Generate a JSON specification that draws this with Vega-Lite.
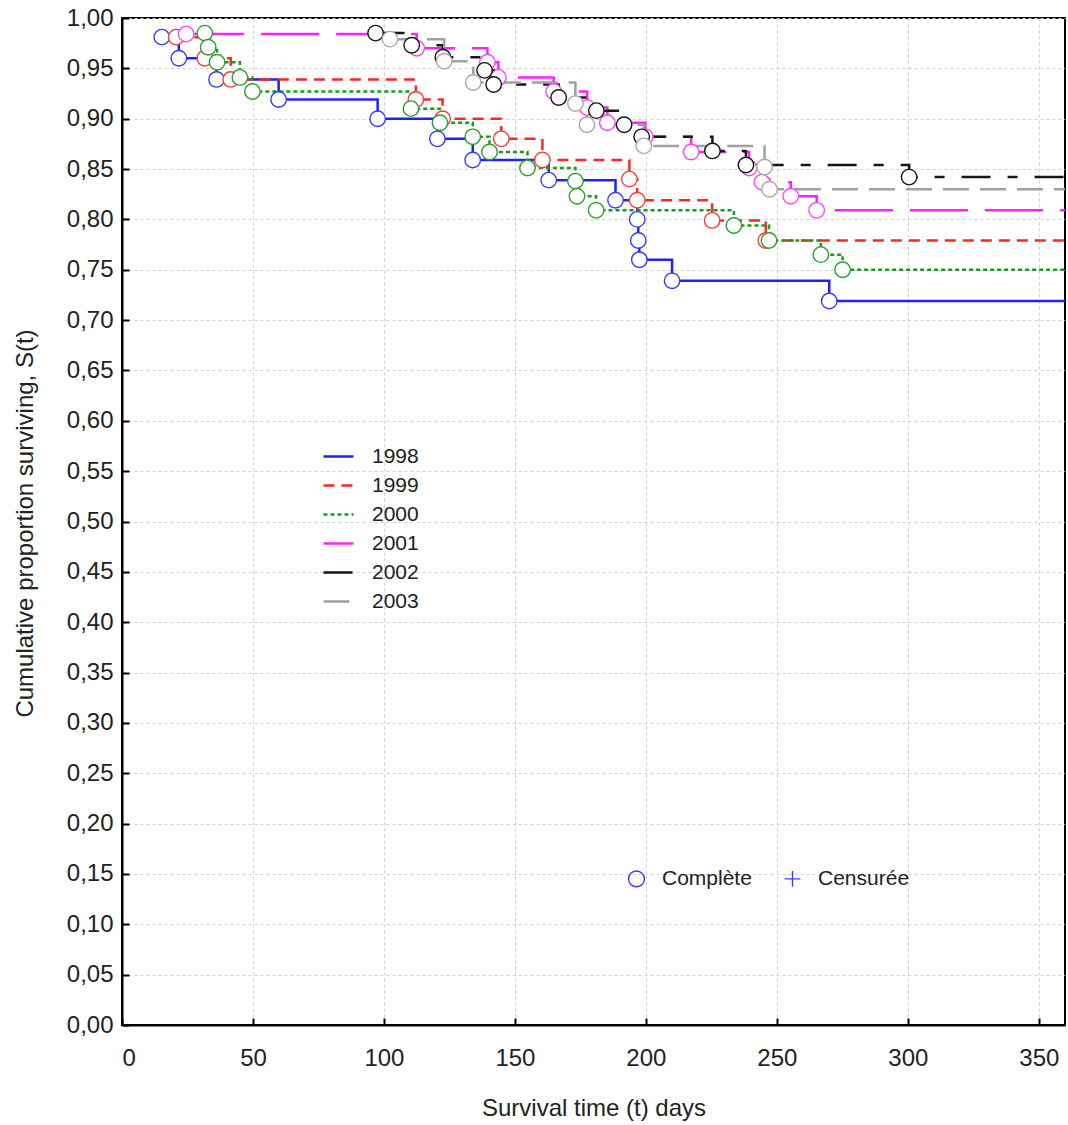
{
  "$schema": "https://vega.github.io/schema/vega-lite/v6.json",
  "width": 943,
  "height": 1007,
  "autosize": {"type": "none"},
  "padding": {"left": 122, "top": 18, "right": 3, "bottom": 100},
  "background": "white",
  "config": {
    "view": {"stroke": "#000", "strokeWidth": 2},
    "font": "Liberation Sans",
    "axis": {
      "domainColor": "#000", "domainWidth": 2,
      "tickColor": "#000", "tickWidth": 2, "tickSize": -7,
      "gridColor": "#d0d0d0", "gridDash": [3, 3], "gridWidth": 1,
      "labelColor": "#222", "titleColor": "#222",
      "labelFontSize": 24, "titleFontSize": 24, "titleFontWeight": "normal"
    }
  },
  "data": {
    "values": [
      {"year": "1998", "t": 15.2, "S": 0.981, "type": "Complète"},
      {"year": "1998", "t": 21.7, "S": 0.960, "type": "Complète"},
      {"year": "1998", "t": 36.1, "S": 0.939, "type": "Complète"},
      {"year": "1998", "t": 59.8, "S": 0.919, "type": "Complète"},
      {"year": "1998", "t": 97.6, "S": 0.900, "type": "Complète"},
      {"year": "1998", "t": 120.4, "S": 0.880, "type": "Complète"},
      {"year": "1998", "t": 133.9, "S": 0.859, "type": "Complète"},
      {"year": "1998", "t": 162.9, "S": 0.839, "type": "Complète"},
      {"year": "1998", "t": 188.4, "S": 0.819, "type": "Complète"},
      {"year": "1998", "t": 196.7, "S": 0.800, "type": "Complète"},
      {"year": "1998", "t": 197.1, "S": 0.779, "type": "Complète"},
      {"year": "1998", "t": 197.5, "S": 0.760, "type": "Complète"},
      {"year": "1998", "t": 210.0, "S": 0.739, "type": "Complète"},
      {"year": "1998", "t": 270.0, "S": 0.719, "type": "Complète"},
      {"year": "1998", "t": 360.0, "S": 0.719, "type": "fin"},
      {"year": "1999", "t": 20.7, "S": 0.981, "type": "Complète"},
      {"year": "1999", "t": 31.6, "S": 0.960, "type": "Complète"},
      {"year": "1999", "t": 41.5, "S": 0.939, "type": "Complète"},
      {"year": "1999", "t": 112.2, "S": 0.919, "type": "Complète"},
      {"year": "1999", "t": 122.4, "S": 0.900, "type": "Complète"},
      {"year": "1999", "t": 144.8, "S": 0.880, "type": "Complète"},
      {"year": "1999", "t": 160.5, "S": 0.859, "type": "Complète"},
      {"year": "1999", "t": 193.7, "S": 0.840, "type": "Complète"},
      {"year": "1999", "t": 196.7, "S": 0.819, "type": "Complète"},
      {"year": "1999", "t": 225.3, "S": 0.799, "type": "Complète"},
      {"year": "1999", "t": 245.8, "S": 0.779, "type": "Complète"},
      {"year": "1999", "t": 360.0, "S": 0.779, "type": "fin"},
      {"year": "2000", "t": 31.6, "S": 0.985, "type": "Complète"},
      {"year": "2000", "t": 32.9, "S": 0.971, "type": "Complète"},
      {"year": "2000", "t": 36.3, "S": 0.956, "type": "Complète"},
      {"year": "2000", "t": 45.0, "S": 0.941, "type": "Complète"},
      {"year": "2000", "t": 49.8, "S": 0.927, "type": "Complète"},
      {"year": "2000", "t": 110.3, "S": 0.910, "type": "Complète"},
      {"year": "2000", "t": 121.4, "S": 0.896, "type": "Complète"},
      {"year": "2000", "t": 133.9, "S": 0.882, "type": "Complète"},
      {"year": "2000", "t": 140.3, "S": 0.867, "type": "Complète"},
      {"year": "2000", "t": 154.8, "S": 0.851, "type": "Complète"},
      {"year": "2000", "t": 173.1, "S": 0.838, "type": "Complète"},
      {"year": "2000", "t": 173.7, "S": 0.823, "type": "Complète"},
      {"year": "2000", "t": 181.0, "S": 0.809, "type": "Complète"},
      {"year": "2000", "t": 233.6, "S": 0.794, "type": "Complète"},
      {"year": "2000", "t": 247.0, "S": 0.779, "type": "Complète"},
      {"year": "2000", "t": 266.8, "S": 0.765, "type": "Complète"},
      {"year": "2000", "t": 275.1, "S": 0.750, "type": "Complète"},
      {"year": "2000", "t": 360.0, "S": 0.750, "type": "fin"},
      {"year": "2001", "t": 24.5, "S": 0.984, "type": "Complète"},
      {"year": "2001", "t": 112.5, "S": 0.970, "type": "Complète"},
      {"year": "2001", "t": 139.5, "S": 0.956, "type": "Complète"},
      {"year": "2001", "t": 143.7, "S": 0.941, "type": "Complète"},
      {"year": "2001", "t": 164.8, "S": 0.927, "type": "Complète"},
      {"year": "2001", "t": 177.6, "S": 0.911, "type": "Complète"},
      {"year": "2001", "t": 185.3, "S": 0.896, "type": "Complète"},
      {"year": "2001", "t": 199.8, "S": 0.882, "type": "Complète"},
      {"year": "2001", "t": 217.3, "S": 0.867, "type": "Complète"},
      {"year": "2001", "t": 239.4, "S": 0.851, "type": "Complète"},
      {"year": "2001", "t": 244.3, "S": 0.837, "type": "Complète"},
      {"year": "2001", "t": 255.3, "S": 0.823, "type": "Complète"},
      {"year": "2001", "t": 265.2, "S": 0.809, "type": "Complète"},
      {"year": "2001", "t": 360.0, "S": 0.809, "type": "fin"},
      {"year": "2002", "t": 96.8, "S": 0.985, "type": "Complète"},
      {"year": "2002", "t": 110.6, "S": 0.973, "type": "Complète"},
      {"year": "2002", "t": 122.5, "S": 0.961, "type": "Complète"},
      {"year": "2002", "t": 138.4, "S": 0.948, "type": "Complète"},
      {"year": "2002", "t": 141.9, "S": 0.934, "type": "Complète"},
      {"year": "2002", "t": 166.7, "S": 0.921, "type": "Complète"},
      {"year": "2002", "t": 181.1, "S": 0.908, "type": "Complète"},
      {"year": "2002", "t": 191.7, "S": 0.894, "type": "Complète"},
      {"year": "2002", "t": 198.4, "S": 0.882, "type": "Complète"},
      {"year": "2002", "t": 225.4, "S": 0.868, "type": "Complète"},
      {"year": "2002", "t": 238.2, "S": 0.854, "type": "Complète"},
      {"year": "2002", "t": 300.5, "S": 0.842, "type": "Complète"},
      {"year": "2002", "t": 360.0, "S": 0.842, "type": "fin"},
      {"year": "2003", "t": 102.3, "S": 0.979, "type": "Complète"},
      {"year": "2003", "t": 123.0, "S": 0.957, "type": "Complète"},
      {"year": "2003", "t": 134.1, "S": 0.936, "type": "Complète"},
      {"year": "2003", "t": 173.1, "S": 0.915, "type": "Complète"},
      {"year": "2003", "t": 177.5, "S": 0.894, "type": "Complète"},
      {"year": "2003", "t": 199.2, "S": 0.873, "type": "Complète"},
      {"year": "2003", "t": 245.3, "S": 0.852, "type": "Complète"},
      {"year": "2003", "t": 247.2, "S": 0.830, "type": "Complète"},
      {"year": "2003", "t": 360.0, "S": 0.830, "type": "fin"}
    ]
  },
  "encoding": {
    "x": {
      "field": "t", "type": "quantitative",
      "scale": {"domain": [0, 360], "nice": false, "zero": false},
      "axis": {
        "title": "Survival time (t) days",
        "values": [0, 50, 100, 150, 200, 250, 300, 350],
        "labelPadding": 28,
        "titleY": 90,
        "titleBaseline": "alphabetic"
      }
    },
    "y": {
      "field": "S", "type": "quantitative",
      "scale": {"domain": [0, 1], "nice": false},
      "axis": {
        "title": "Cumulative proportion surviving, S(t)",
        "values": [0, 0.05, 0.1, 0.15, 0.2, 0.25, 0.3, 0.35, 0.4, 0.45, 0.5, 0.55, 0.6, 0.65, 0.7, 0.75, 0.8, 0.85, 0.9, 0.95, 1],
        "labelExpr": "replace(format(datum.value, '.2f'), '.', ',')",
        "labelPadding": 16,
        "titleX": -97,
        "titleY": 505,
        "titleAngle": -90,
        "titleAlign": "center",
        "titleBaseline": "middle"
      }
    }
  },
  "layer": [
    {
      "mark": {"type": "line", "interpolate": "step-after", "strokeWidth": 2.5, "clip": true},
      "encoding": {
        "color": {
          "field": "year", "type": "nominal",
          "scale": {"domain": ["1998", "1999", "2000", "2001", "2002", "2003"], "range": ["#2020ff", "#ff2626", "#179c17", "#ff22ff", "#151515", "#a0a0a0"]},
          "legend": {"title": null, "orient": "none", "legendX": 200, "legendY": 422, "symbolType": "stroke", "symbolSize": 900, "symbolStrokeWidth": 2.5, "labelFontSize": 21, "labelOffset": 17, "rowPadding": 2, "padding": 0, "labelColor": "#222"}
        },
        "strokeDash": {
          "field": "year", "type": "nominal",
          "scale": {"domain": ["1998", "1999", "2000", "2001", "2002", "2003"], "range": [[1, 0], [11, 7], [4, 3], [58, 17], [29, 17, 10, 17], [26, 11]]},
          "legend": {"title": null, "orient": "none", "legendX": 200, "legendY": 422, "symbolType": "stroke", "symbolSize": 900, "symbolStrokeWidth": 2.5, "labelFontSize": 21, "labelOffset": 17, "rowPadding": 2, "padding": 0, "labelColor": "#222"}
        }
      }
    },
    {
      "transform": [{"filter": "datum.type !== 'fin'"}],
      "mark": {"type": "point", "shape": "circle", "fill": "white", "fillOpacity": 1, "opacity": 1, "strokeWidth": 1.4, "size": 240},
      "encoding": {
        "stroke": {
          "field": "year", "type": "nominal",
          "scale": {"domain": ["1998", "1999", "2000", "2001", "2002", "2003"], "range": ["#3a3aff", "#ff3a3a", "#2aa02a", "#ff44ff", "#151515", "#a8a8a8"]},
          "legend": null
        }
      }
    },
    {
      "transform": [{"filter": "datum.type === 'Censurée'"}],
      "mark": {"type": "point", "color": "#3a3aff", "filled": false, "strokeWidth": 1.4, "size": 250, "opacity": 1},
      "encoding": {
        "shape": {
          "field": "type", "type": "nominal",
          "scale": {"domain": ["Complète", "Censurée"], "range": ["circle", "M-1,0H1M0,-1V1"]},
          "legend": {
            "title": null, "orient": "none", "direction": "horizontal", "legendX": 504, "legendY": 850,
            "symbolSize": 250, "labelFontSize": 21, "labelOffset": 15, "columnPadding": 29, "padding": 0, "labelColor": "#222",
            "symbolStrokeColor": "#3a3aff", "symbolFillColor": "white", "symbolStrokeWidth": 1.4
          }
        }
      }
    }
  ]
}
